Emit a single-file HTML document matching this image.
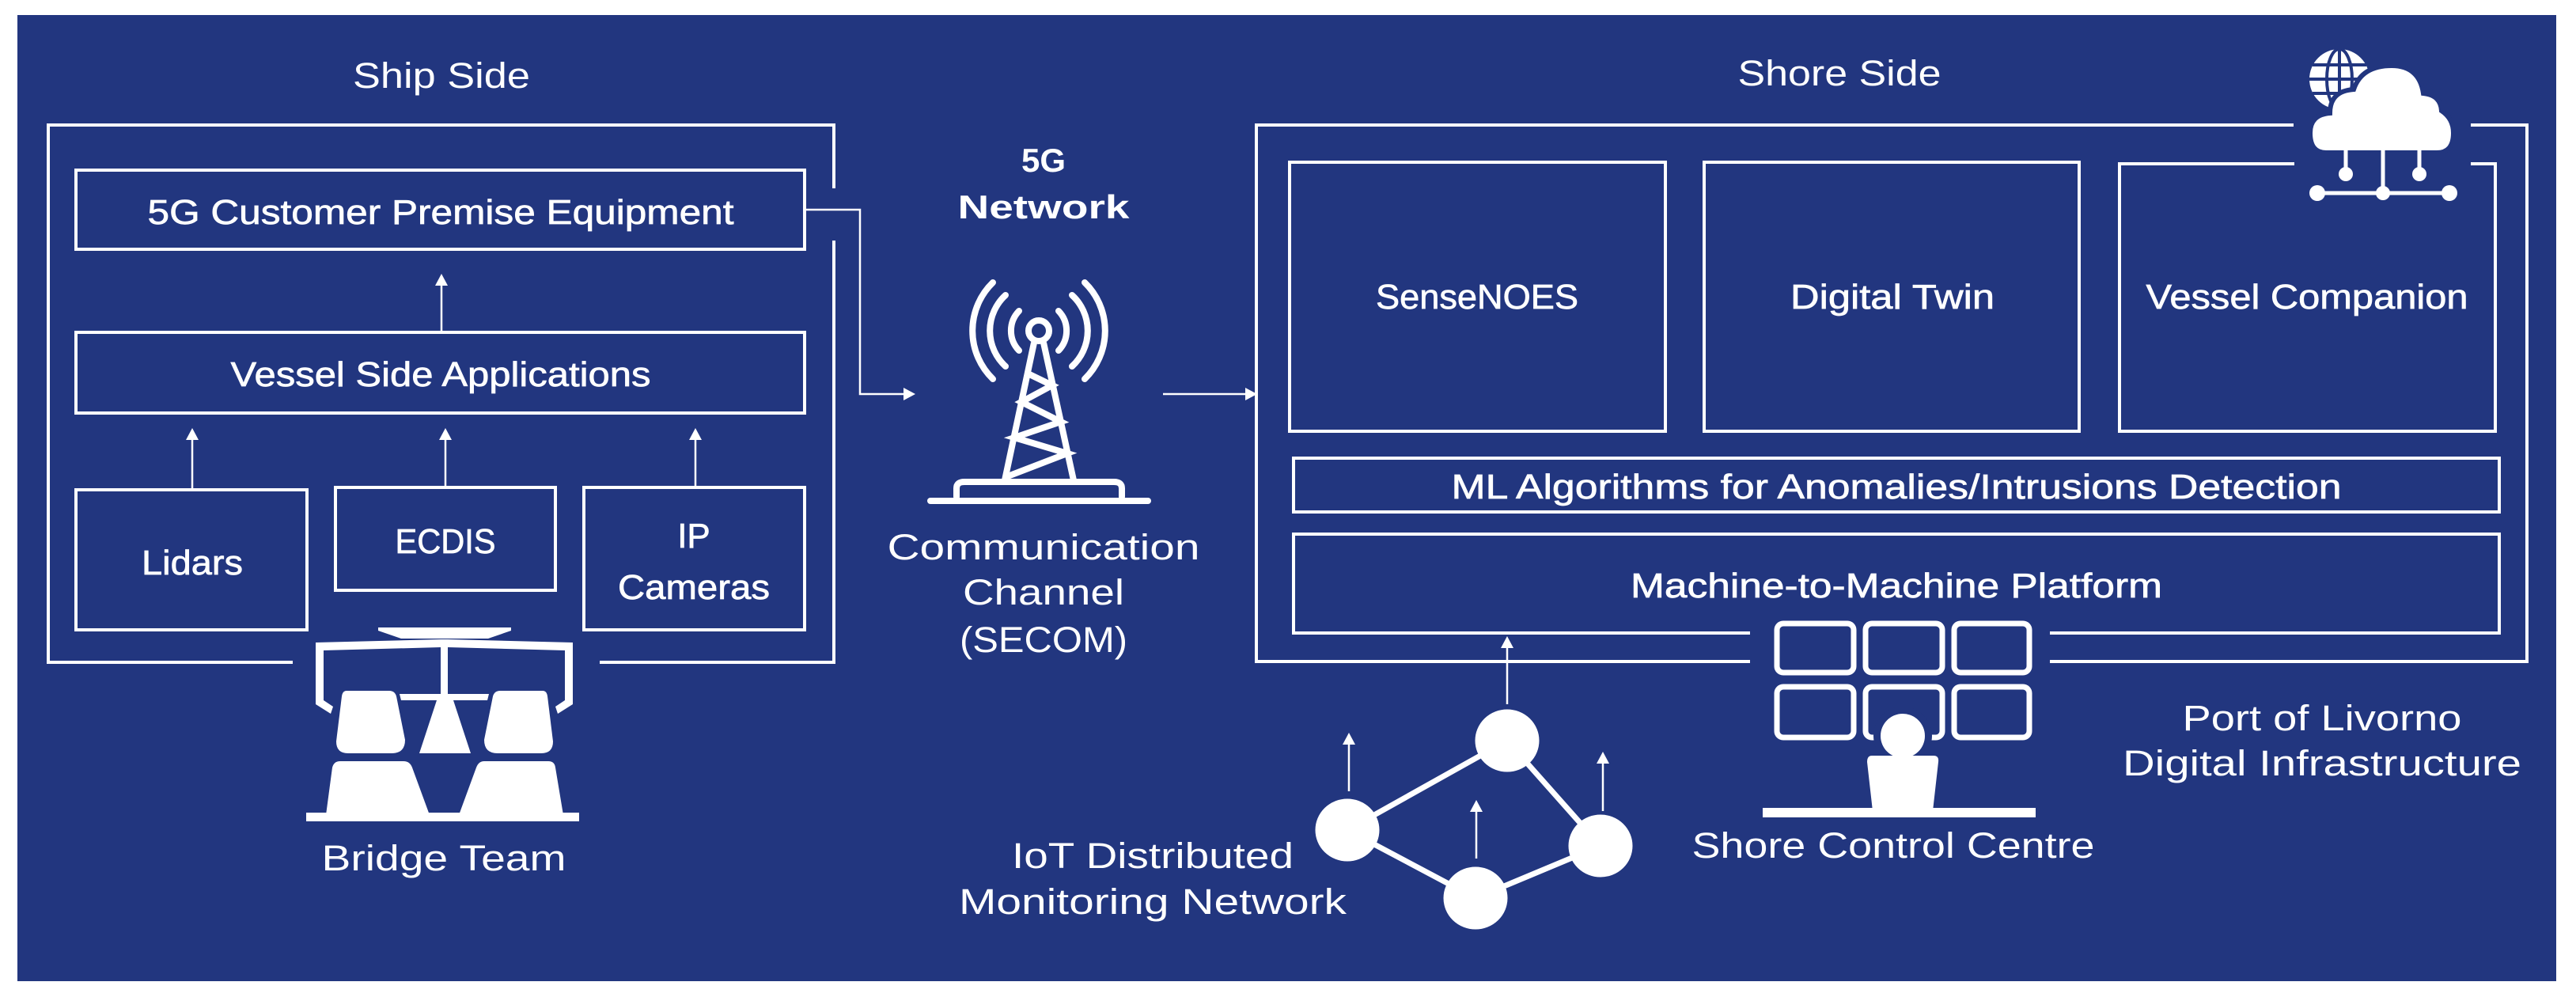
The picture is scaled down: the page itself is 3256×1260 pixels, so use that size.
<!DOCTYPE html>
<html><head><meta charset="utf-8"><style>
html,body{margin:0;padding:0;background:#fff}
svg{display:block}
text{font-family:"Liberation Sans",sans-serif;fill:#fff}
.b{stroke:#fff;stroke-width:0.7px}
</style></head><body>
<svg width="3256" height="1260" viewBox="0 0 3256 1260" xmlns="http://www.w3.org/2000/svg">
<rect x="0" y="0" width="3256" height="1260" fill="#fff"/>
<rect x="22" y="19" width="3209" height="1221" fill="#22367f"/>
<g fill="none" stroke="#fff" stroke-width="4">
<!-- ship outer -->
<polyline points="1054,238 1054,158 61,158 61,837 370,837"/>
<polyline points="758,837 1054,837 1054,304"/>
<rect x="96" y="215" width="921" height="100"/>
<rect x="96" y="420" width="921" height="102"/>
<rect x="96" y="619" width="292" height="177"/>
<rect x="424" y="616" width="278" height="130"/>
<rect x="738" y="616" width="279" height="180"/>
<!-- shore outer -->
<polyline points="2899,158 1588,158 1588,836 2212,836"/>
<polyline points="2591,836 3194,836 3194,158 3123,158"/>
<rect x="1630" y="205" width="475" height="340"/>
<rect x="2154" y="205" width="474" height="340"/>
<polyline points="2900,207 2679,207 2679,545 3154,545 3154,207 3123,207"/>
<rect x="1635" y="579" width="1524" height="68"/>
<polyline points="2212,800 1635,800 1635,675 3159,675 3159,800 2591,800"/>
</g>
<g fill="none" stroke="#fff" stroke-width="2.5">
<line x1="558" y1="420" x2="558" y2="358"/>
<line x1="243" y1="619" x2="243" y2="552"/>
<line x1="563" y1="615" x2="563" y2="552"/>
<line x1="879" y1="615" x2="879" y2="552"/>
<polyline points="1017,265 1087,265 1087,498 1145,498"/>
<line x1="1470" y1="498" x2="1577" y2="498"/>
<line x1="1905" y1="890" x2="1905" y2="815"/>
<line x1="1705" y1="1000" x2="1705" y2="937"/>
<line x1="1866" y1="1085" x2="1866" y2="1022"/>
<line x1="2026" y1="1025" x2="2026" y2="961"/>
</g>
<g fill="#fff">
<polygon points="558,346 550,361 566,361"/>
<polygon points="243,541 235,556 251,556"/>
<polygon points="563,541 555,556 571,556"/>
<polygon points="879,541 871,556 887,556"/>
<polygon points="1157,498 1142,490 1142,506"/>
<polygon points="1589,498 1574,490 1574,506"/>
<polygon points="1905,804 1897,819 1913,819"/>
<polygon points="1705,926 1697,941 1713,941"/>
<polygon points="1866,1011 1858,1026 1874,1026"/>
<polygon points="2026,950 2018,965 2034,965"/>
</g>
<!-- texts -->
<text x="558" y="111" font-size="45" text-anchor="middle" textLength="224" lengthAdjust="spacingAndGlyphs">Ship Side</text>
<text x="2325" y="108" font-size="45" text-anchor="middle" textLength="257" lengthAdjust="spacingAndGlyphs">Shore Side</text>
<text class="b" x="557" y="283" font-size="44" text-anchor="middle" textLength="741" lengthAdjust="spacingAndGlyphs">5G Customer Premise Equipment</text>
<text class="b" x="557" y="488" font-size="44" text-anchor="middle" textLength="531" lengthAdjust="spacingAndGlyphs">Vessel Side Applications</text>
<text class="b" x="243" y="726" font-size="44" text-anchor="middle" textLength="128" lengthAdjust="spacingAndGlyphs">Lidars</text>
<text class="b" x="563" y="699" font-size="44" text-anchor="middle" textLength="127" lengthAdjust="spacingAndGlyphs">ECDIS</text>
<text class="b" x="877" y="692" font-size="44" text-anchor="middle">IP</text>
<text class="b" x="877" y="757" font-size="44" text-anchor="middle" textLength="192" lengthAdjust="spacingAndGlyphs">Cameras</text>
<text x="561" y="1100" font-size="45" text-anchor="middle" textLength="309" lengthAdjust="spacingAndGlyphs">Bridge Team</text>
<text x="1319" y="217" font-size="42" font-weight="bold" text-anchor="middle">5G</text>
<text x="1319" y="276" font-size="42" font-weight="bold" text-anchor="middle" textLength="217" lengthAdjust="spacingAndGlyphs">Network</text>
<text x="1319" y="707" font-size="45" text-anchor="middle" textLength="395" lengthAdjust="spacingAndGlyphs">Communication</text>
<text x="1319" y="764" font-size="45" text-anchor="middle" textLength="204" lengthAdjust="spacingAndGlyphs">Channel</text>
<text x="1319" y="824" font-size="45" text-anchor="middle" textLength="212" lengthAdjust="spacingAndGlyphs">(SECOM)</text>
<text class="b" x="1867" y="390" font-size="44" text-anchor="middle" textLength="256" lengthAdjust="spacingAndGlyphs">SenseNOES</text>
<text class="b" x="2392" y="390" font-size="44" text-anchor="middle" textLength="258" lengthAdjust="spacingAndGlyphs">Digital Twin</text>
<text class="b" x="2916" y="390" font-size="44" text-anchor="middle" textLength="407" lengthAdjust="spacingAndGlyphs">Vessel Companion</text>
<text class="b" x="2397" y="630" font-size="44" text-anchor="middle" textLength="1125" lengthAdjust="spacingAndGlyphs">ML Algorithms for Anomalies/Intrusions Detection</text>
<text class="b" x="2397" y="755" font-size="44" text-anchor="middle" textLength="672" lengthAdjust="spacingAndGlyphs">Machine-to-Machine Platform</text>
<text x="1457" y="1097" font-size="45" text-anchor="middle" textLength="356" lengthAdjust="spacingAndGlyphs">IoT Distributed</text>
<text x="1457" y="1155" font-size="45" text-anchor="middle" textLength="490" lengthAdjust="spacingAndGlyphs">Monitoring Network</text>
<text x="2393" y="1084" font-size="45" text-anchor="middle" textLength="509" lengthAdjust="spacingAndGlyphs">Shore Control Centre</text>
<text x="2935" y="923" font-size="45" text-anchor="middle" textLength="353" lengthAdjust="spacingAndGlyphs">Port of Livorno</text>
<text x="2935" y="980" font-size="45" text-anchor="middle" textLength="504" lengthAdjust="spacingAndGlyphs">Digital Infrastructure</text>
<!-- bridge icon -->
<g fill="#fff">
<polygon points="478,793 646,793 646,797 617,807 507,807 478,797"/>
<polygon points="399,812 557,808 566,808 724,812 724,890 705,902 702,893 714,885 714,822 566,818 566,877 618,877 616,885 573,885 595,952 530,952 552,885 507,885 505,877 557,877 557,818 409,822 409,885 421,893 418,902 399,890"/>
<path d="M438,873 L492,873 Q499,873 501,880 L512,935 Q512,952 495,952 L440,952 Q425,952 425,937 L432,880 Q433,873 438,873Z"/>
<path d="M632,873 L686,873 Q691,873 692,880 L699,937 Q699,952 684,952 L629,952 Q612,952 612,935 L623,880 Q625,873 632,873Z"/>
<path d="M430,962 L510,962 Q518,962 521,970 L543,1030 L412,1030 L420,970 Q422,962 430,962Z"/>
<path d="M612,962 L693,962 Q701,962 702,970 L712,1030 L580,1030 L602,970 Q605,962 612,962Z"/>
<rect x="387" y="1027" width="345" height="11"/>
</g>
<!-- tower -->
<g fill="none" stroke="#fff" stroke-width="8" stroke-linecap="round">
<circle cx="1313" cy="418" r="13"/>
<path d="M1288,393 A36,36 0 0 0 1288,443"/>
<path d="M1338,393 A36,36 0 0 1 1338,443"/>
<path d="M1271,373 A61,61 0 0 0 1271,463"/>
<path d="M1355,373 A61,61 0 0 1 1355,463"/>
<path d="M1255,357 A85,85 0 0 0 1255,479"/>
<path d="M1371,357 A85,85 0 0 1 1371,479"/>
<path stroke-linecap="butt" stroke-linejoin="miter" d="M1270,607 L1307,433 M1357,607 L1319,433"/>
<polyline stroke-linecap="butt" points="1299,472 1330,487 1291,508 1341,533 1282,553 1349,573 1271,603"/>
<path d="M1209,628 L1209,617 Q1209,609 1219,609 L1408,609 Q1418,609 1418,617 L1418,628"/>
<line x1="1176" y1="633" x2="1451" y2="633"/>
</g>
<!-- cloud -->
<g>
<circle cx="2957" cy="100" r="38" fill="#fff"/>
<g stroke="#22367f" stroke-width="4" fill="none">
<ellipse cx="2957" cy="100" rx="16" ry="38"/>
<line x1="2957" y1="62" x2="2957" y2="138"/>
<line x1="2919" y1="100" x2="2995" y2="100"/>
<line x1="2923" y1="82" x2="2991" y2="82"/>
<line x1="2923" y1="118" x2="2991" y2="118"/>
</g>
<g fill="#fff" stroke="#22367f" stroke-width="6">
<path d="M2940,193 Q2920,193 2920,168 Q2920,145 2945,143 Q2945,115 2975,113 Q2985,83 3023,83 Q3058,83 3063,118 Q3085,120 3086,140 Q3101,150 3101,168 Q3101,193 3080,193 Z"/>
</g>
<g stroke="#fff" stroke-width="5" fill="#fff">
<line x1="2965" y1="190" x2="2965" y2="220"/>
<line x1="3012" y1="190" x2="3012" y2="244"/>
<line x1="3058" y1="190" x2="3058" y2="220"/>
<line x1="2927" y1="244" x2="3097" y2="244"/>
<circle cx="2965" cy="220" r="9" stroke="none"/>
<circle cx="3058" cy="220" r="9" stroke="none"/>
<circle cx="2929" cy="244" r="10" stroke="none"/>
<circle cx="3012" cy="244" r="9" stroke="none"/>
<circle cx="3096" cy="244" r="10" stroke="none"/>
</g>
</g>
<!-- IoT network -->
<g stroke="#fff" stroke-width="7" fill="#fff">
<polyline fill="none" points="1703,1049 1905,936 2023,1069 1865,1135 1703,1049"/>
<ellipse cx="1905" cy="936" rx="37" ry="36"/>
<ellipse cx="1703" cy="1049" rx="37" ry="36"/>
<ellipse cx="1865" cy="1135" rx="37" ry="36"/>
<ellipse cx="2023" cy="1069" rx="37" ry="36"/>
</g>
<!-- control centre -->
<g fill="none" stroke="#fff" stroke-width="7">
<rect x="2246" y="788" width="97" height="62" rx="8"/>
<rect x="2358" y="788" width="97" height="62" rx="8"/>
<rect x="2470" y="788" width="95" height="62" rx="8"/>
<rect x="2246" y="868" width="97" height="64" rx="8"/>
<rect x="2358" y="868" width="97" height="64" rx="8"/>
<rect x="2470" y="868" width="95" height="64" rx="8"/>
</g>
<circle cx="2405" cy="930" r="37" fill="#22367f"/>
<rect x="2352" y="945" width="106" height="20" fill="#22367f"/>
<g fill="#fff">
<circle cx="2405" cy="930" r="28"/>
<path d="M2366,955 L2444,955 Q2451,955 2450,963 L2443,1025 L2367,1025 L2360,963 Q2360,955 2366,955Z"/>
<rect x="2228" y="1021" width="345" height="12"/>
</g>
</svg>
</body></html>
